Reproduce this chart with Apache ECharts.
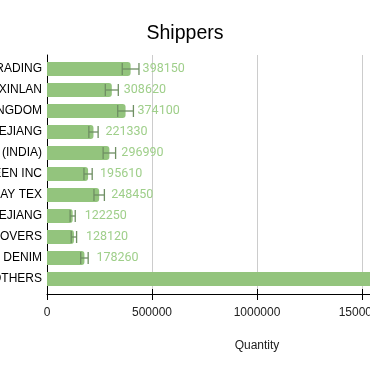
<!DOCTYPE html>
<html>
<head>
<meta charset="utf-8">
<script src="https://cdn.jsdelivr.net/npm/echarts@6/dist/echarts.min.js"></script>
<style>
html,body{margin:0;padding:0;background:#fff;overflow:hidden;}
#c{width:370px;height:371px;}
</style>
</head>
<body>
<div id="c"></div>
<script>
const categories = ["GLOBAL TEXTILE TRADING", "ZHEJIANG XINLAN", "UNITED KINGDOM", "SHAOXING ZHEJIANG", "ARVIND (INDIA)", "TEXTILE GREEN INC", "BOMBAY TEX", "NINGBO ZHEJIANG", "UNITED MOVERS", "ARVIND DENIM", "OTHERS"];
const quantities = [398150, 308620, 374100, 221330, 296990, 195610, 248450, 122250, 128120, 178260, 1850000];
const errors = [39800, 30900, 37400, 22100, 29700, 19600, 24800, 12200, 12800, 17800, 185000];
const xTicks = [0, 500000, 1000000, 1500000, 2000000];

const xMin = xTicks[0], xMax = xTicks[xTicks.length - 1], xStep = xTicks[1] - xTicks[0];
const FONT = "'Liberation Sans', Arial, sans-serif";

const errData = quantities.map((q, i) => [q - errors[i], q + errors[i], i]);

const chart = echarts.init(document.getElementById('c'), null, {renderer: 'canvas'});
chart.setOption({
  animation: false,
  backgroundColor: '#ffffff',
  title: {
    text: 'Shippers',
    left: 'center',
    top: 23.5,
    padding: 0,
    textStyle: {fontFamily: FONT, fontSize: 19.5, fontWeight: 'normal', color: '#000'}
  },
  grid: [
    {left: 47, top: 55, width: 420, height: 239, containLabel: false, outerBoundsMode: 'none'},
    {left: 47, top: 58.5, width: 420, height: 231, containLabel: false, outerBoundsMode: 'none'}
  ],
  xAxis: [
    {
      gridIndex: 0, type: 'value', min: xMin, max: xMax, interval: xStep,
      name: 'Quantity', nameLocation: 'middle', nameGap: 46,
      nameTextStyle: {fontFamily: FONT, fontSize: 12, color: '#222'},
      axisLine: {show: true, lineStyle: {color: '#000', width: 1}},
      axisTick: {show: true, length: 6, lineStyle: {color: '#000', width: 1}},
      axisLabel: {fontFamily: FONT, fontSize: 12, color: '#222', margin: 13,
                  formatter: function (v) { return String(v); }},
      splitLine: {show: true, lineStyle: {color: '#cccccc', width: 1}}
    },
    {
      gridIndex: 0, type: 'value', min: xMin, max: xMax, interval: xStep, position: 'bottom',
      axisLine: {show: false},
      axisTick: {show: true, inside: true, length: 5, lineStyle: {color: '#000', width: 1}},
      axisLabel: {show: false},
      splitLine: {show: false}
    },
    {
      gridIndex: 1, type: 'value', min: xMin, max: xMax, interval: xStep, show: false,
      splitLine: {show: false}
    }
  ],
  yAxis: [
    {
      gridIndex: 0, type: 'value', min: 0, max: 1, position: 'left',
      axisLine: {show: true, lineStyle: {color: '#000', width: 1}},
      axisTick: {show: false}, axisLabel: {show: false}, splitLine: {show: false}
    },
    {
      gridIndex: 1, type: 'category', data: categories, inverse: true,
      axisLine: {show: false}, axisTick: {show: false},
      axisLabel: {fontFamily: FONT, fontSize: 12, color: '#000', margin: 5}
    }
  ],
  series: [
    {
      type: 'bar', xAxisIndex: 2, yAxisIndex: 1,
      data: quantities, barWidth: 14,
      itemStyle: {color: '#93c47d', borderRadius: [0, 3, 3, 0]},
      label: {show: true, position: 'right', distance: 12, color: '#9fcf8a',
              fontFamily: "Roboto, sans-serif", fontSize: 12.5},
      z: 2
    },
    {
      type: 'custom', xAxisIndex: 2, yAxisIndex: 1,
      data: errData,
      encode: {x: [0, 1], y: 2},
      renderItem: function (params, api) {
        const lo = api.coord([api.value(0), api.value(2)]);
        const hi = api.coord([api.value(1), api.value(2)]);
        const h = 6;
        const style = {stroke: '#6f8f63', lineWidth: 1.3};
        return {
          type: 'group',
          children: [
            {type: 'line', shape: {x1: lo[0], y1: lo[1], x2: hi[0], y2: hi[1]}, style: style},
            {type: 'line', shape: {x1: lo[0], y1: lo[1] - h, x2: lo[0], y2: lo[1] + h}, style: style},
            {type: 'line', shape: {x1: hi[0], y1: hi[1] - h, x2: hi[0], y2: hi[1] + h}, style: style}
          ]
        };
      },
      z: 3
    }
  ]
});
</script>
</body>
</html>
